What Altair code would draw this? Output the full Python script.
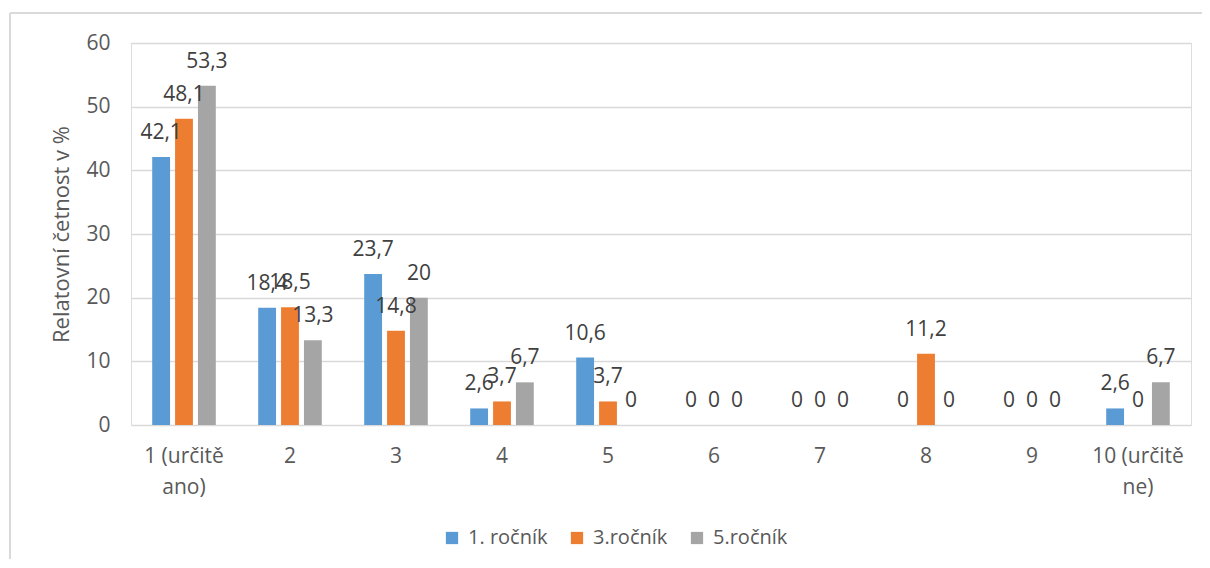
import altair as alt
import pandas as pd

categories = ["1 (určitě ano)", "2", "3", "4", "5", "6", "7", "8", "9", "10 (určitě ne)"]
series = ["1. ročník", "3.ročník", "5.ročník"]
r1 = [42.1, 18.4, 23.7, 2.6, 10.6, 0, 0, 0, 0, 2.6]
r3 = [48.1, 18.5, 14.8, 3.7, 3.7, 0, 0, 11.2, 0, 0]
r5 = [53.3, 13.3, 20, 6.7, 0, 0, 0, 0, 0, 6.7]
colors = ["#5B9BD5", "#ED7D31", "#A5A5A5"]

rows = []
for s, vals in zip(series, [r1, r3, r5]):
    for c, v in zip(categories, vals):
        rows.append({"kat": c, "serie": s, "hodnota": v,
                     "popisek": f"{v:g}".replace(".", ",")})
df = pd.DataFrame(rows)

FONT = "Open Sans"
TXT = "#595959"
FS = 21

x = alt.X("kat:N", sort=categories, title=None,
          scale=alt.Scale(paddingInner=0.4, paddingOuter=0.2),
          axis=alt.Axis(labelAngle=0, ticks=False, domain=False, labelPadding=20,
                        labelFontSize=FS, labelColor=TXT, labelFont=FONT,
                        labelLineHeight=31, labelBaseline="top",
                        labelExpr="length(datum.label) > 3 ? [slice(datum.label, 0, lastindexof(datum.label, ' ')), slice(datum.label, lastindexof(datum.label, ' ') + 1)] : datum.label"))
xo = alt.XOffset("serie:N", sort=series, scale=alt.Scale(paddingInner=0.22, paddingOuter=0))
y = alt.Y("hodnota:Q", title="Relatovní četnost v %",
          scale=alt.Scale(domain=[0, 60], nice=False),
          axis=alt.Axis(values=[0, 10, 20, 30, 40, 50, 60], ticks=False, domain=False,
                        labelPadding=21, labelFontSize=FS, labelColor=TXT, labelFont=FONT,
                        titleFontSize=22, titleColor=TXT, titleFont=FONT,
                        titleFontWeight="normal", titlePadding=12,
                        gridColor="#D9D9D9", gridWidth=1.5))
color = alt.Color("serie:N", sort=series, title=None,
                  scale=alt.Scale(domain=series, range=colors),
                  legend=alt.Legend(orient="none", direction="horizontal",
                                    legendX=311, legendY=485,
                                    symbolType="square", symbolSize=150,
                                    symbolStrokeWidth=0, labelFontSize=20,
                                    labelColor=TXT, labelFont=FONT,
                                    columnPadding=19, labelOffset=6))

bars = alt.Chart(df).mark_bar().encode(x=x, xOffset=xo, y=y, color=color)
labels = alt.Chart(df).mark_text(baseline="alphabetic", dy=-18, fontSize=FS,
                                 font=FONT, color="#404040").encode(
    x=alt.X("kat:N", sort=categories), xOffset=xo, y="hodnota:Q", text="popisek:N")

frame = alt.Chart(df).mark_rect(fill="white", fillOpacity=0, stroke="#D9D9D9",
                                strokeWidth=1).encode(
    x=alt.value(-121), x2=alt.value(1150), y=alt.value(-30), y2=alt.value(600))

chart = alt.layer(frame, bars, labels).properties(
    width=1060, height=382,
    padding={"left": 123, "top": 35, "right": 11, "bottom": 134},
    autosize="none",
).configure_view(stroke=None).configure(background="white")

chart.save("out.html", embed_options={"renderer": "svg", "actions": False})
